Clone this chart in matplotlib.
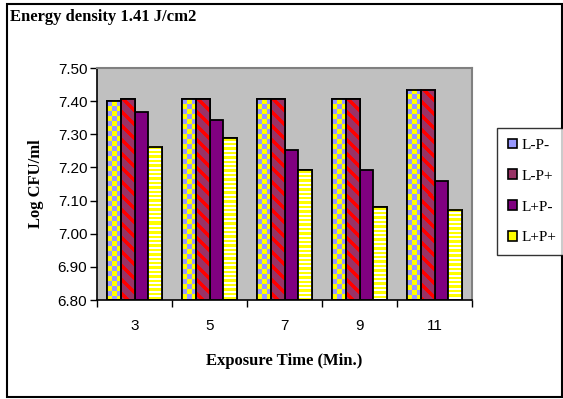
import numpy as np
import matplotlib
matplotlib.use("Agg")
import matplotlib.pyplot as plt
from matplotlib.patches import Patch, Rectangle

# data
times = ["3", "5", "7", "9", "11"]
series = ["L-P-", "L-P+", "L+P-", "L+P+"]
lpm = [7.400, 7.405, 7.405, 7.405, 7.435]
lpp = [7.405, 7.405, 7.405, 7.405, 7.435]
lppm = [7.368, 7.342, 7.252, 7.192, 7.160]
lppp = [7.262, 7.288, 7.192, 7.080, 7.073]
values = [lpm, lpp, lppm, lppp]

ymin, ymax = 6.80, 7.50
yticks = np.arange(6.80, 7.501, 0.10)

base_colors = ["#9999FF", "#993366", "#800080", "#FFFF00"]
kinds = ["checker", "diag", None, "hstripe"]

W, H = 563, 399
fig = plt.figure(figsize=(W / 100, H / 100), dpi=100)
ax_l, ax_r, ax_t, ax_b = 97, 472, 68, 300
ax = fig.add_axes([ax_l / W, 1 - ax_b / H, (ax_r - ax_l) / W, (ax_b - ax_t) / H])
ax.set_facecolor("#C0C0C0")

n = len(times)
ax.set_xlim(-0.5, n - 0.5)
ax.set_ylim(ymin, ymax)
px_x = (ax_r - ax_l) / n          # pixels per category
px_y = (ax_b - ax_t) / (ymax - ymin)  # pixels per unit


def rgb(c):
    return np.array(matplotlib.colors.to_rgb(c))


def texture(kind, wpx, hpx):
    i, j = np.mgrid[0:hpx, 0:wpx]
    if kind == "checker":
        m = ((i // 5 + j // 4.7).astype(int) % 2) == 0
        a, b = rgb("#9999FF"), rgb("#FFFF00")
    elif kind == "diag":
        m = ((j - i) % 14) < 5
        a, b = rgb("#FF0000"), rgb("#993366")
    else:
        m = (i % 4.4) < 2.4
        a, b = rgb("#FFFF00"), rgb("#FFFFFF")
    return np.where(m[..., None], a, b)


w = 0.185
x = np.arange(n)
for k, (vals, col, kind) in enumerate(zip(values, base_colors, kinds)):
    xs = x + (k - 1.5) * w
    ax.bar(xs, np.array(vals) - ymin, width=w, bottom=ymin, color=col,
           edgecolor="black", linewidth=1.3, zorder=2)
    if kind is not None:
        for xc, v in zip(xs, vals):
            wpx = max(int(round(w * px_x)), 1)
            hpx = max(int(round((v - ymin) * px_y)), 1)
            ax.imshow(texture(kind, wpx, hpx), extent=(xc - w / 2, xc + w / 2, ymin, v),
                      origin="upper", aspect="auto", interpolation="nearest", zorder=2.5)
        ax.bar(xs, np.array(vals) - ymin, width=w, bottom=ymin, fill=False,
               edgecolor="black", linewidth=1.3, zorder=3)

ax.set_xlim(-0.5, n - 0.5)
ax.set_ylim(ymin, ymax)

ax.set_xticks(x)
ax.set_xticklabels(times, family="Liberation Sans", fontsize=11)
ax.set_xticks(np.arange(-0.5, n, 1.0), minor=True)
ax.tick_params(axis="x", which="major", length=0, pad=14)
ax.tick_params(axis="x", which="minor", length=5, width=1, direction="out")
ax.set_yticks(yticks)
ax.set_yticklabels(["%.2f" % t for t in yticks], family="Liberation Sans", fontsize=11)
ax.tick_params(axis="y", length=5, width=1, direction="out", pad=2)

for s in ["top", "right"]:
    ax.spines[s].set_color("#808080")
    ax.spines[s].set_linewidth(1.5)
for s in ["left", "bottom"]:
    ax.spines[s].set_color("black")
    ax.spines[s].set_linewidth(1.2)

ax.set_xlabel("Exposure Time (Min.)", family="Liberation Serif", fontweight="bold",
              fontsize=12, labelpad=14)
ax.set_ylabel("Log CFU/ml", family="Liberation Serif", fontweight="bold",
              fontsize=12, labelpad=10)

fig.text(10 / W, 1 - 17 / H, "Energy density 1.41 J/cm2", family="Liberation Serif",
         fontweight="bold", fontsize=12, va="center", ha="left")

handles = [Patch(facecolor=c, edgecolor="black", linewidth=1.2) for c in base_colors]
leg = fig.legend(handles, series, loc="center left",
                 bbox_to_anchor=(497 / W, 1 - 191.5 / H),
                 prop={"family": "Liberation Serif", "size": 11},
                 frameon=True, fancybox=False, edgecolor="black",
                 handlelength=0.6, handleheight=0.6, handletextpad=0.3,
                 labelspacing=1.15, borderpad=0.7, borderaxespad=0)
leg.get_frame().set_linewidth(1.0)

fig.patches.append(Rectangle((7 / W, 2 / H), (562 - 7) / W, 393 / H,
                             transform=fig.transFigure, fill=False,
                             edgecolor="black", linewidth=1.5))

fig.savefig("out.png", dpi=100)
